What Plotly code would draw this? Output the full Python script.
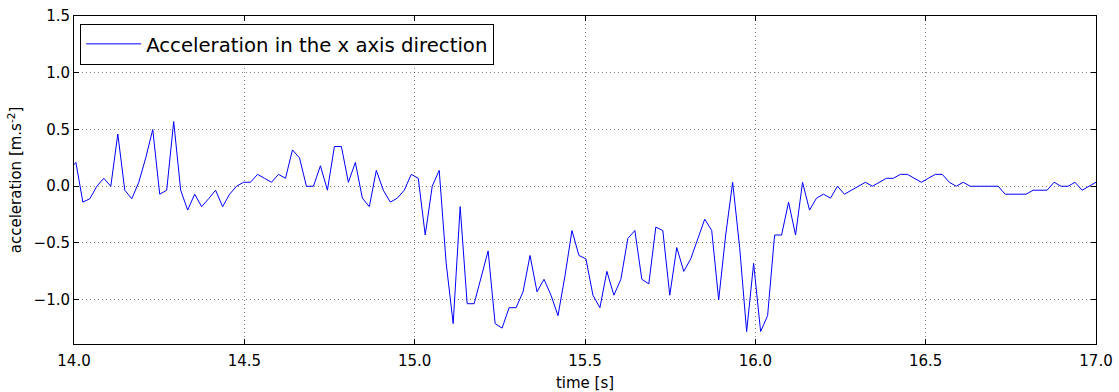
import numpy as np
import plotly.graph_objects as go

# Sample times (s): regular acquisition grid, ~48.8 Hz
n_samples = 148
t_start = 13.985
t_end = 17.0

# Acceleration along x (m.s^-2), one value per sample
acc_x = [
    0.14, 0.21, -0.14, -0.11, 0.0, 0.07, 0.0, 0.46, -0.035, -0.11,
    0.035, 0.25, 0.5, -0.07, -0.035, 0.57, -0.035, -0.21, -0.07, -0.18,
    -0.11, -0.035, -0.18, -0.07, 0.0, 0.035, 0.035, 0.105, 0.07, 0.035,
    0.105, 0.07, 0.32, 0.25, 0.0, 0.0, 0.18, -0.035, 0.35, 0.35,
    0.035, 0.21, -0.105, -0.18, 0.14, -0.035, -0.14, -0.105, -0.035, 0.105,
    0.07, -0.43, 0.0, 0.14, -0.68, -1.21, -0.18, -1.035, -1.035, -0.79,
    -0.57, -1.21, -1.25, -1.07, -1.07, -0.93, -0.61, -0.93, -0.82, -0.96,
    -1.14, -0.79, -0.39, -0.61, -0.64, -0.96, -1.07, -0.75, -0.96, -0.82,
    -0.46, -0.39, -0.82, -0.86, -0.36, -0.39, -0.96, -0.54, -0.75, -0.64,
    -0.46, -0.29, -0.39, -1.0, -0.43, 0.035, -0.54, -1.28, -0.68, -1.28,
    -1.14, -0.43, -0.43, -0.14, -0.43, 0.035, -0.21, -0.105, -0.07, -0.105,
    0.0, -0.07, -0.035, 0.0, 0.035, 0.0, 0.035, 0.07, 0.07, 0.105,
    0.105, 0.07, 0.035, 0.07, 0.105, 0.105, 0.035, 0.0, 0.035, 0.0,
    0.0, 0.0, 0.0, 0.0, -0.07, -0.07, -0.07, -0.07, -0.035, -0.035,
    -0.035, 0.035, 0.0, 0.0, 0.035, -0.035, 0.0, 0.035,
]

time_s = np.linspace(t_start, t_end, n_samples)

x_ticks = [14.0, 14.5, 15.0, 15.5, 16.0, 16.5, 17.0]
y_ticks = [-1.0, -0.5, 0.0, 0.5, 1.0, 1.5]

font_family = "DejaVu Sans"

fig = go.Figure()
fig.add_trace(go.Scatter(
    x=time_s, y=acc_x, mode="lines",
    line=dict(color="#0000ff", width=1),
    name="Acceleration in the x axis direction",
))

axis_common = dict(
    showline=True, linecolor="black", linewidth=1, mirror="allticks",
    ticks="inside", ticklen=5, tickcolor="black", tickwidth=1,
    showgrid=True, gridcolor="rgba(0,0,0,0.5)", griddash="1px,3px", gridwidth=1,
    zeroline=False, tickformat=".1f", automargin=False,
    tickfont=dict(family=font_family, size=15, color="black"),
)

fig.update_layout(
    width=1119, height=392,
    margin=dict(l=74, r=23, t=16, b=48),
    paper_bgcolor="white", plot_bgcolor="white",
    font=dict(family=font_family, color="black"),
    showlegend=True,
    legend=dict(
        x=0.006, y=0.977, xanchor="left", yanchor="top",
        bordercolor="black", borderwidth=1, bgcolor="white",
        font=dict(family=font_family, size=19.7, color="black"),
        itemwidth=55,
    ),
    xaxis=dict(
        range=[14.0, 17.0], tickvals=x_ticks, ticklabelstandoff=3,
        title=dict(text="time [s]", font=dict(family=font_family, size=15), standoff=11),
        **axis_common,
    ),
    yaxis=dict(
        range=[-1.39, 1.5], tickvals=y_ticks,
        title=dict(text="acceleration [m.s<sup>-2</sup>]", font=dict(family=font_family, size=15), standoff=8),
        **axis_common,
    ),
)

fig.write_html("out.html")
